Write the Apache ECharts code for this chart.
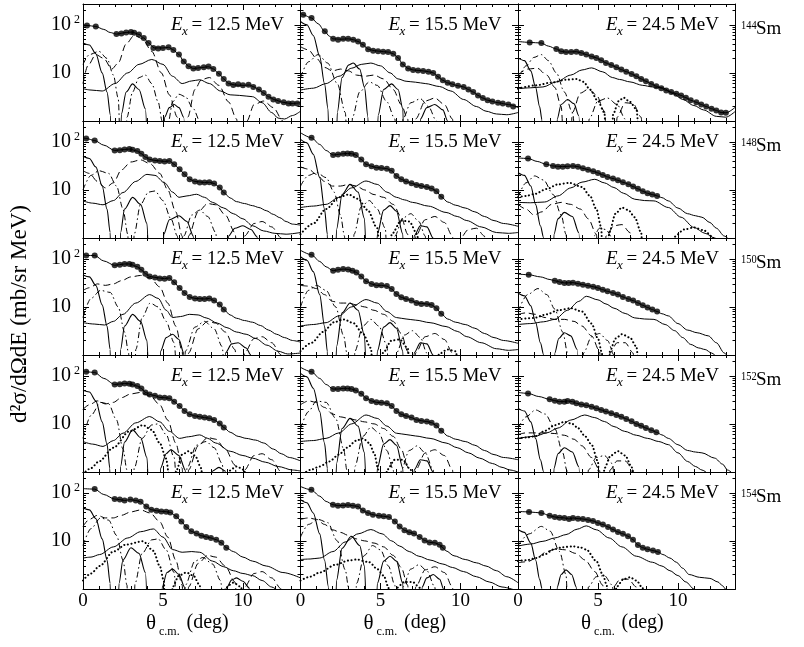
<!DOCTYPE html>
<html><head><meta charset="utf-8">
<script src="https://cdn.jsdelivr.net/npm/echarts@6/dist/echarts.min.js"></script>
<style>html,body{margin:0;padding:0;background:#fff}#c{width:804px;height:647px}</style>
</head><body><div id="c"></div>
<script>
// ---------- 144Sm ----------
const pts144a = [[0.25,97],[0.8,92],[2.09,64],[2.4,66],[2.7,69],[3.0,71],[3.2,68],[3.5,63],[3.8,53],[4.1,42],[4.4,33],[4.7,32],[5.0,33],[5.35,34],[5.65,30],[6.0,24],[6.3,17.3],[6.6,13.7],[6.9,12.3],[7.2,12.7],[7.55,13.1],[7.85,13.5],[8.15,12.1],[8.5,9.6],[8.8,7.5],[9.1,6.0],[9.4,5.6],[9.7,5.8],[10.0,5.5],[10.35,5.7],[10.65,5.1],[11.0,4.5],[11.3,3.8],[11.6,3.2],[11.9,2.8],[12.2,2.6],[12.55,2.45],[12.85,2.3],[13.1,2.3],[13.4,2.3]];
const fit144a = [[0,100],[0.25,97],[0.8,92],[1.3,80],[1.7,69],[2.09,64],[2.7,69],[3.05,70.5],[3.5,63],[3.8,53],[4.1,42],[4.45,33],[5.0,33],[5.35,34],[5.65,30],[6.0,24],[6.3,17.3],[6.6,13.7],[6.9,12.3],[7.4,12.9],[7.85,13.4],[8.15,12.1],[8.5,9.6],[8.8,7.5],[9.1,6.0],[9.5,5.6],[10.0,5.5],[10.4,5.6],[10.7,5.1],[11.0,4.5],[11.3,3.8],[11.6,3.2],[12.0,2.75],[12.5,2.45],[13.0,2.3],[13.6,2.4]];
const m0_144a = [[0,42],[0.4,38],[0.8,25],[1.2,10],[1.5,4],[1.72,1.3],[1.8,0.05],[2.3,0.05],[2.4,1.4],[2.7,4],[3.1,5.9],[3.5,4.5],[3.9,1.8],[4.15,0.05],[5.0,0.05],[5.1,1.2],[5.4,1.9],[5.7,2.2],[6.0,1.9],[6.3,1.2],[6.45,0.05]];
const m1_144a = [[0,15],[0.4,24],[1.0,28],[1.5,20],[1.9,9],[2.2,3],[2.4,0.05],[2.6,0.05],[2.75,1.2],[3.1,4],[3.5,8],[3.9,9],[4.3,6],[4.7,2.5],[4.95,1],[5.05,0.05],[5.2,0.05],[5.35,1],[5.6,2.5],[6.0,3.6],[6.4,3.2],[6.9,1.8],[7.3,1],[7.45,0.05]];
const m2_144a = [[0,6],[0.3,14],[0.8,24],[1.3,20],[1.8,12],[2.2,16],[2.7,40],[3.2,60],[3.7,52],[4.3,28],[4.9,10],[5.4,3.5],[5.9,1.2],[6.2,0.05],[6.4,0.05],[6.55,1.2],[7.0,4.5],[7.4,7.2],[7.9,8],[8.5,5.5],[9.1,2.5],[9.6,1.1],[9.9,0.05],[10.1,0.05],[10.25,1.0],[10.7,2.2],[11.3,2.6],[11.9,1.9],[12.5,1.0],[12.7,0.05]];
const m3_144a = [];
const bg144a = [[0,4.7],[0.5,4.4],[1.2,4.2],[2.0,6],[2.8,10],[3.5,15],[4.3,19],[5.0,15],[5.6,8.5],[6.2,6],[6.8,6.8],[7.3,7.2],[7.9,6],[8.6,4.2],[9.2,3.5],[9.8,3.4],[10.6,3.2],[11.2,2.4],[11.8,1.5],[12.2,1.15],[12.6,1.1],[13.1,1.3],[13.6,1.6]];

const pts144b = [[0.17,161],[0.69,138],[1.52,73],[2.04,51],[2.35,49],[2.67,51],[2.98,51],[3.3,49],[3.6,45],[3.9,38.6],[4.23,31],[4.54,29],[4.85,28],[5.17,27.6],[5.48,27],[5.8,25],[6.1,20.5],[6.4,15],[6.73,12.3],[7.04,11.5],[7.35,11.2],[7.67,11],[8.0,10.6],[8.3,10],[8.6,8.3],[8.9,7],[9.2,6.2],[9.5,5.8],[9.85,5.4],[10.2,5.1],[10.5,4.5],[10.8,4.0],[11.1,3.4],[11.4,3.0],[11.7,2.7],[12.0,2.55],[12.35,2.4],[12.65,2.3],[13.0,2.2],[13.3,2.0]];
const fit144b = [[0,175],[0.17,161],[0.69,138],[1.1,105],[1.52,73],[1.8,58],[2.04,51],[2.5,50],[3.0,51],[3.3,49],[3.6,45],[3.9,38.6],[4.23,31],[4.6,29],[5.2,27.6],[5.5,27],[5.8,25],[6.1,20.5],[6.4,15],[6.73,12.3],[7.04,11.5],[7.67,11],[8.0,10.6],[8.3,10],[8.6,8.3],[8.9,7],[9.2,6.2],[9.85,5.4],[10.2,5.1],[10.5,4.5],[10.8,4.0],[11.1,3.4],[11.4,3.0],[11.7,2.7],[12.35,2.4],[13.0,2.2],[13.6,1.9]];
const m0_144b = [[0,117],[0.4,100],[0.8,60],[1.2,22],[1.5,6],[1.72,1.8],[1.83,0.05],[2.2,0.05],[2.3,1.5],[2.6,8],[3.0,14.5],[3.3,16],[3.7,12],[4.0,5],[4.22,1.2],[4.3,0.05],[4.75,0.05],[4.85,1.3],[5.2,4.5],[5.7,5.9],[6.1,4.5],[6.4,1.8],[6.5,0.05],[7.4,0.05],[7.5,1.1],[7.9,1.9],[8.4,2.2],[8.9,1.7],[9.2,1.0],[9.3,0.05]];
const m1_144b = [[0,8],[0.5,17],[1.1,24],[1.7,16],[2.3,6],[2.8,1.5],[3.0,0.05],[3.15,0.05],[3.25,1.2],[3.7,4],[4.3,6.5],[4.8,5.5],[5.4,2.5],[5.9,1.1],[6.1,0.05],[6.25,0.05],[6.4,1.1],[6.9,2.4],[7.5,2.9],[8.0,2],[8.5,1.0],[8.7,0.05]];
const m2_144b = [[0,35],[0.5,30],[1.0,20],[1.5,13],[2.0,11],[2.5,12],[3.0,11],[3.5,9],[4.0,8.5],[4.6,9],[5.2,7.5],[5.8,4.5],[6.3,2.2],[6.7,1.1],[6.9,0.05],[7.05,0.05],[7.2,1.1],[7.8,2.6],[8.4,3.0],[9.0,2.2],[9.5,1.1],[9.7,0.05]];
const m3_144b = [];
const bg144b = [[0,4.4],[0.8,4.8],[1.6,6],[2.4,8.5],[3.2,12.5],[3.8,15],[4.4,16],[5.0,14],[5.6,10],[6.1,7.5],[6.6,6.7],[7.2,6.4],[7.8,6.0],[8.7,5.2],[9.4,4.2],[10.2,2.8],[11.0,2.0],[11.6,1.6],[12.25,1.4],[12.9,1.35],[13.6,1.5]];

const pts144c = [[0.73,43],[1.46,41.7],[2.4,31.4],[2.7,28],[3.0,27],[3.33,27],[3.65,27.6],[3.96,26],[4.27,24],[4.6,22],[4.9,20.5],[5.2,18.3],[5.5,16.1],[5.83,14.6],[6.15,13.1],[6.46,11.7],[6.77,10.6],[7.1,9.5],[7.4,8.5],[7.7,7.5],[8.0,6.7],[8.33,5.9],[8.65,5.3],[8.96,4.8],[9.27,4.3],[9.58,4.0],[9.9,3.7],[10.2,3.4],[10.5,3.05],[10.8,2.7],[11.15,2.45],[11.46,2.2],[11.77,2.0],[12.1,1.8],[12.4,1.66],[12.7,1.5],[13.0,1.48]];
const fit144c = [[0,45],[0.73,43],[1.46,41.7],[1.9,36],[2.4,31.4],[2.7,28],[3.0,27],[3.65,27.6],[3.96,26],[4.27,24],[4.6,22],[4.9,20.5],[5.2,18.3],[5.5,16.1],[5.83,14.6],[6.15,13.1],[6.46,11.7],[6.77,10.6],[7.1,9.5],[7.4,8.5],[7.7,7.5],[8.0,6.7],[8.33,5.9],[8.65,5.3],[8.96,4.8],[9.27,4.3],[9.58,4.0],[9.9,3.7],[10.2,3.4],[10.5,3.05],[10.8,2.7],[11.15,2.45],[11.46,2.2],[11.77,2.0],[12.1,1.8],[12.4,1.66],[12.7,1.5],[13.0,1.48],[13.6,1.95]];
const m0_144c = [[0,20.5],[0.4,18],[0.8,11],[1.1,5],[1.35,2],[1.5,1.05],[1.56,0.05],[2.35,0.05],[2.45,1.1],[2.7,2.2],[3.1,2.8],[3.5,2.3],[3.8,1.3],[3.95,0.05]];
const m1_144c = [[0,7],[0.5,14],[1.0,21],[1.46,24],[1.9,18],[2.4,10],[2.9,4],[3.4,1.5],[3.8,0.05],[4.3,0.05],[4.45,1.1],[5.0,2.6],[5.6,3.0],[6.2,2.2],[6.7,1.1],[6.9,0.05]];
const m2_144c = [[0,9],[0.6,12],[1.2,12.5],[1.8,9],[2.3,5],[2.7,2],[2.95,0.05],[3.2,0.05],[3.4,1.5],[3.9,3.8],[4.4,4.6],[4.9,3.5],[5.4,1.6],[5.7,0.05],[6.0,0.05],[6.2,1.2],[6.7,2.4],[7.2,2.3],[7.7,1.2],[7.9,0.05]];
const m3_144c = [[0,4.7],[1.1,5.5],[2.2,6.4],[3.0,7.2],[3.65,7.5],[4.1,6.5],[4.5,4.5],[5.0,2.6],[5.4,1.5],[5.6,0.05],[5.8,0.05],[5.95,1.4],[6.3,2.6],[6.6,3.05],[7.0,2.5],[7.4,1.76],[7.7,0.05]];
const bg144c = [[0,4.7],[0.8,4.9],[1.56,5.1],[2.4,6.5],[3.3,9],[4.0,11.5],[4.6,12.7],[5.3,10.5],[5.9,8],[6.35,7.3],[7.0,6.5],[7.8,5.5],[8.4,5.1],[9.05,4.9],[9.7,3.7],[10.3,2.8],[11.0,2.1],[11.6,1.7],[12.4,1.25],[13.0,1.2],[13.6,1.6]];

// ---------- 148Sm ----------
const pts148a = [[0.2,117],[0.73,106],[1.98,66],[2.3,67],[2.6,69],[2.9,70.6],[3.1,68],[3.4,64],[3.65,56.5],[3.9,48],[4.17,43],[4.5,41],[4.8,40],[5.1,39],[5.4,40],[5.7,34],[6.04,26.7],[6.35,21],[6.67,16.6],[7.0,15],[7.3,14.2],[7.6,14.2],[7.9,14.4],[8.2,13.5],[8.55,11.2],[8.8,8.8]];
const fit148a = [[0,120],[0.2,117],[0.73,106],[1.3,85],[1.98,66],[2.6,69],[2.9,70.6],[3.4,64],[3.65,56.5],[3.9,48],[4.17,43],[4.5,41],[5.1,39],[5.4,40],[5.7,34],[6.04,26.7],[6.35,21],[6.67,16.6],[7.0,15],[7.6,14.2],[7.9,14.4],[8.2,13.5],[8.55,11.2],[8.8,8.8],[9.2,6.8],[9.6,5.7],[10.1,5.2],[10.6,4.7],[11.0,4.3],[11.46,3.7],[11.9,3.1],[12.3,2.65],[12.7,2.2],[13.1,1.94],[13.6,1.85]];
const m0_148a = [[0,50],[0.4,45],[0.8,30],[1.2,12],[1.5,4],[1.7,1.3],[1.77,0.05],[2.25,0.05],[2.35,1.3],[2.6,4],[3.1,7],[3.6,5],[4.0,2],[4.2,0.05],[4.95,0.05],[5.05,1.2],[5.4,2.4],[6.0,2.9],[6.5,2.2],[6.9,1.1],[7.0,0.05],[9.0,0.05],[9.1,1.1],[9.5,1.6],[10.0,1.8],[10.5,1.5],[10.9,1.05],[11.0,0.05]];
const m1_148a = [[0,10],[0.5,20],[1.0,25],[1.6,22],[2.1,12],[2.5,4],[2.8,1.2],[2.9,0.05],[3.1,0.05],[3.2,1.2],[3.6,5],[4.1,9],[4.5,9.5],[5.0,6],[5.5,2.5],[5.9,1.1],[6.05,0.05],[6.2,0.05],[6.3,1.1],[6.8,3],[7.3,3.8],[7.8,2.8],[8.3,1.3],[8.5,0.05]];
const m2_148a = [[0,25],[0.4,22],[0.9,15],[1.4,11],[1.9,14],[2.4,26],[3.0,38],[3.6,42],[4.2,35],[4.8,22],[5.3,10],[5.8,3.5],[6.2,1.1],[6.35,0.05],[6.5,0.05],[6.6,1.1],[7.2,3.5],[7.8,5.2],[8.3,4.9],[8.9,3],[9.5,1.3],[9.8,0.05],[9.95,0.05],[10.1,1.1],[10.7,2.0],[11.2,2.2],[11.8,1.7],[12.4,1.0],[12.6,0.05]];
const m3_148a = [];
const bg148a = [[0,5.9],[0.6,5.3],[1.25,4.9],[1.9,6],[2.5,8.8],[3.3,15],[4.0,21],[4.5,20],[5.1,14],[5.6,9],[6.0,7],[6.5,7.5],[7.1,8.1],[7.6,7],[8.1,5.5],[8.8,4.2],[9.4,3.2],[10.0,2.5],[10.6,1.8],[11.3,1.4],[12.0,1.25],[12.7,1.2],[13.6,1.3]];

const pts148b = [[0.69,121],[2.04,53],[2.35,54.6],[2.67,56.5],[2.94,57.3],[3.19,56.5],[3.46,53],[3.8,43],[4.1,34],[4.44,31],[4.75,29],[5.06,28.5],[5.4,27.6],[5.7,25],[6.0,19.5],[6.3,16.6],[6.6,14.9],[6.94,13.7],[7.25,12.7],[7.56,12.1],[7.9,11.5],[8.2,10.7],[8.5,9.4],[8.8,7.2]];
const fit148b = [[0,154],[0.69,121],[1.2,88],[1.6,66],[2.04,53],[2.5,55.5],[2.94,57.3],[3.2,56.5],[3.46,53],[3.8,43],[4.1,34],[4.44,31],[4.75,29],[5.06,28.5],[5.4,27.6],[5.7,25],[6.0,19.5],[6.3,16.6],[6.6,14.9],[6.94,13.7],[7.25,12.7],[7.9,11.5],[8.2,10.7],[8.5,9.4],[8.8,7.2],[9.2,5.6],[9.7,4.8],[10.3,4.2],[10.9,3.5],[11.5,2.8],[12.1,2.3],[12.7,2.0],[13.6,1.75]];
const m0_148b = [[0,112],[0.4,95],[0.8,55],[1.2,18],[1.5,4],[1.68,1.2],[1.73,0.05],[2.15,0.05],[2.25,1.5],[2.6,8],[3.1,13],[3.6,9],[4.0,2.5],[4.2,0.05],[4.7,0.05],[4.8,1.2],[5.2,3.8],[5.6,4.7],[6.0,3.6],[6.4,1.2],[6.5,0.05],[7.0,0.05],[7.1,1.1],[7.5,1.8],[7.9,1.7],[8.3,1.0],[8.4,0.05]];
const m1_148b = [[0,12],[0.5,20],[1.0,23],[1.6,18],[2.1,9],[2.5,3],[2.75,1.1],[2.85,0.05],[3.2,0.05],[3.35,1.2],[3.8,4.5],[4.3,6],[4.8,4],[5.3,1.6],[5.5,0.05],[5.8,0.05],[5.9,1.1],[6.4,2.6],[6.9,3.2],[7.4,2.2],[7.8,1.1],[7.95,0.05]];
const m2_148b = [[0,30],[0.5,27],[1.0,21],[1.5,15],[2.0,12],[2.5,12],[3.0,13],[3.5,12],[4.0,10],[4.6,8],[5.2,7],[5.8,5],[6.3,2.7],[6.7,1.2],[6.9,0.05],[7.05,0.05],[7.2,1.1],[7.8,2.4],[8.4,2.8],[9.0,2.1],[9.5,1.1],[9.7,0.05],[9.85,0.05],[10.0,1.0],[10.5,1.5],[11.0,1.6],[11.5,1.1],[11.7,0.05]];
const m3_148b = [[0,1.2],[0.8,2],[1.6,4],[2.4,7],[3.0,8],[3.6,6.5],[4.2,3.8],[4.8,1.6],[5.1,0.05],[5.5,0.05],[5.7,1.2],[6.3,2.3],[6.8,2.2],[7.3,1.2],[7.5,0.05]];
const bg148b = [[0,4.3],[0.8,4.6],[1.6,5],[2.4,7],[3.2,11],[4.1,15.3],[4.8,13],[5.4,9],[6.0,7],[6.5,6.2],[7.0,5.5],[8.0,4.6],[9.1,3.4],[9.8,2.8],[10.4,2.3],[11.3,1.7],[12.25,1.3],[13.0,1.25],[13.6,1.3]];

const pts148c = [[0.63,45],[1.77,34],[2.19,31.4],[2.5,30.4],[2.8,30.4],[3.1,31],[3.44,31.4],[3.75,30.4],[4.06,28],[4.38,26.3],[4.7,24.3],[5.0,22.5],[5.3,20.5],[5.6,18.6],[5.94,17.2],[6.25,15.8],[6.56,14.4],[6.9,13.1],[7.2,11.7],[7.5,10.5],[7.8,9.4],[8.1,8.5],[8.4,8.0],[8.7,7.5]];
const fit148c = [[0,46],[0.63,45],[1.2,39],[1.77,34],[2.19,31.4],[2.8,30.4],[3.44,31.4],[3.75,30.4],[4.06,28],[4.38,26.3],[4.7,24.3],[5.0,22.5],[5.3,20.5],[5.6,18.6],[5.94,17.2],[6.25,15.8],[6.56,14.4],[6.9,13.1],[7.2,11.7],[7.5,10.5],[7.8,9.4],[8.1,8.5],[8.4,8.0],[8.7,7.5],[9.0,6.9],[9.4,5.9],[10.0,4.2],[10.6,3.2],[11.1,2.9],[11.5,2.7],[12.0,2.1],[12.4,1.6],[12.9,1.1],[13.3,0.9],[13.6,0.8]];
const m0_148c = [[0,22.7],[0.4,20],[0.8,12],[1.1,5],[1.4,1.8],[1.6,1.02],[1.67,0.05],[2.15,0.05],[2.25,1.2],[2.5,2.5],[2.9,3.4],[3.4,2.8],[3.8,1.3],[3.96,0.05]];
const m1_148c = [[0,7],[0.5,14],[1.04,19.5],[1.6,16],[2.2,8],[2.7,3],[3.0,1.2],[3.2,0.05],[4.6,0.05],[4.75,1.1],[5.1,1.6],[5.5,1.5],[5.9,1.0],[6.0,0.05]];
const m2_148c = [[0,5],[0.5,4],[1.0,3],[1.5,3.5],[2.1,5],[2.7,5.5],[3.3,5],[3.9,4],[4.4,2.5],[4.9,1.2],[5.1,0.05],[5.4,0.05],[5.5,1.1],[6.0,1.8],[6.5,1.9],[7.0,1.3],[7.3,0.05]];
const m3_148c = [[0,7],[0.5,7.5],[1.04,8.2],[1.8,10.5],[2.5,13],[3.2,14],[4.0,11.5],[4.5,7.5],[4.9,4],[5.2,1.7],[5.35,0.05],[5.55,0.05],[5.7,1.3],[6.1,3.2],[6.5,4.3],[6.9,3.8],[7.3,2.7],[7.7,1.3],[7.9,0.05],[9.6,0.05],[9.75,1.05],[10.4,1.5],[11.0,1.66],[11.6,1.45],[12.2,1.05],[12.3,0.05]];
const bg148c = [[0,5.5],[0.8,5.4],[1.67,5.6],[2.5,7.5],[3.3,11],[4.0,14.5],[4.8,16.6],[5.4,14],[6.0,11.2],[6.6,8.5],[7.3,6.4],[7.9,6],[8.5,5.9],[9.4,4.3],[10.2,2.7],[11.0,1.66],[11.7,1.25],[12.3,1.0],[12.8,0.8],[13.6,0.6]];

// ---------- 150Sm ----------
const pts150a = [[0.2,117],[0.73,117],[1.98,73],[2.3,75],[2.6,78],[2.9,78],[3.1,75],[3.4,68],[3.65,59],[3.9,49],[4.17,43],[4.5,41],[4.8,39],[5.1,38.6],[5.4,40],[5.7,32.4],[6.04,24.7],[6.35,19.5],[6.67,16.1],[7.0,15],[7.3,14.6],[7.6,14.6],[7.9,15],[8.2,13.5],[8.55,11.2],[8.8,8.8]];
const fit150a = [[0,125],[0.2,117],[0.73,117],[1.3,90],[1.98,73],[2.6,78],[2.9,78],[3.4,68],[3.65,59],[3.9,49],[4.17,43],[4.5,41],[5.1,38.6],[5.4,40],[5.7,32.4],[6.04,24.7],[6.35,19.5],[6.67,16.1],[7.0,15],[7.6,14.6],[7.9,15],[8.2,13.5],[8.55,11.2],[8.8,8.8],[9.2,6.8],[9.6,5.8],[10.1,5.2],[10.6,4.8],[11.1,4.1],[11.6,3.3],[12.1,2.7],[12.6,2.3],[13.1,2.0],[13.6,1.85]];
const m0_150a = [[0,46],[0.4,42],[0.8,28],[1.2,11],[1.5,4],[1.7,1.3],[1.77,0.05],[2.25,0.05],[2.35,1.3],[2.6,4],[3.1,7],[3.6,5],[4.0,2],[4.2,0.05],[4.75,0.05],[4.85,1.2],[5.2,2.3],[5.6,2.7],[6.0,2.1],[6.3,1.1],[6.4,0.05],[8.8,0.05],[8.9,1.1],[9.3,1.7],[9.7,1.8],[10.2,1.4],[10.5,1.0],[10.6,0.05]];
const m1_150a = [[0,6],[0.5,15],[1.1,22],[1.7,20],[2.2,10],[2.6,3],[2.85,1.1],[2.95,0.05],[3.2,0.05],[3.3,1.3],[3.7,6],[4.2,12],[4.7,10],[5.2,5],[5.7,1.8],[6.0,0.05],[6.3,0.05],[6.4,1.2],[7.0,3.8],[7.6,5],[8.2,3.5],[8.7,1.5],[8.95,0.05]];
const m2_150a = [[0,22],[0.4,25],[0.9,30],[1.4,28],[1.9,30],[2.4,35],[3.0,42],[3.6,45],[4.2,40],[4.8,26],[5.3,12],[5.8,4],[6.2,1.2],[6.35,0.05],[6.5,0.05],[6.6,1.1],[7.2,3.5],[7.8,5],[8.3,4.6],[8.9,3],[9.5,1.3],[9.8,0.05],[9.95,0.05],[10.1,1.1],[10.7,2.2],[11.2,2.4],[11.8,1.8],[12.4,1.0],[12.6,0.05]];
const m3_150a = [];
const bg150a = [[0,4.7],[0.7,4.4],[1.35,4.2],[1.9,5],[2.5,7],[3.3,12],[4.17,18],[4.7,15],[5.2,8.5],[5.6,6],[6.1,6.3],[6.67,7],[7.2,6.8],[7.7,5.9],[8.4,4.6],[9.0,3.7],[9.6,3.0],[10.2,2.7],[10.8,2.2],[11.5,1.6],[12.2,1.2],[12.8,1.05],[13.6,1.1]];

const pts150b = [[0.69,121],[2.04,56.5],[2.35,59],[2.67,61],[2.98,60],[3.25,56.5],[3.5,52],[3.8,43],[4.1,34],[4.44,30],[4.75,28],[5.06,28],[5.4,27],[5.7,23.6],[6.0,18.6],[6.3,15.8],[6.6,14.6],[6.94,13.5],[7.25,12.1],[7.56,11.5],[7.9,11.5],[8.2,11],[8.5,9.4],[8.8,7.2]];
const fit150b = [[0,150],[0.69,121],[1.2,88],[1.6,68],[2.04,56.5],[2.35,59],[2.67,61],[2.98,60],[3.25,56.5],[3.5,52],[3.8,43],[4.1,34],[4.44,30],[4.75,28],[5.06,28],[5.4,27],[5.7,23.6],[6.0,18.6],[6.3,15.8],[6.6,14.6],[6.94,13.5],[7.25,12.1],[7.9,11.5],[8.2,11],[8.5,9.4],[8.8,7.2],[9.2,5.6],[9.7,4.8],[10.3,4.3],[10.9,3.6],[11.5,2.8],[12.1,2.3],[12.7,2.0],[13.6,1.75]];
const m0_150b = [[0,110],[0.4,93],[0.8,54],[1.2,18],[1.5,4],[1.68,1.2],[1.73,0.05],[2.15,0.05],[2.25,1.5],[2.6,7.5],[3.1,12],[3.6,8.5],[4.0,2.5],[4.2,0.05],[4.7,0.05],[4.8,1.2],[5.2,3.8],[5.6,4.7],[6.0,3.6],[6.4,1.2],[6.5,0.05],[7.0,0.05],[7.1,1.1],[7.5,1.8],[7.9,1.7],[8.3,1.0],[8.4,0.05]];
const m1_150b = [[0,10],[0.5,22],[1.0,28],[1.6,22],[2.2,10],[2.7,2.5],[2.9,1.1],[3.0,0.05],[3.3,0.05],[3.4,1.2],[3.9,4],[4.4,5.5],[4.9,4],[5.4,1.6],[5.6,0.05],[5.9,0.05],[6.0,1.1],[6.5,2.6],[7.0,3.2],[7.5,2.3],[7.9,1.1],[8.05,0.05]];
const m2_150b = [[0,28],[0.5,27],[1.0,24],[1.5,18],[2.0,13],[2.5,12],[3.0,12],[3.5,11],[4.0,10],[4.6,8.5],[5.2,7],[5.8,5],[6.3,2.8],[6.7,1.2],[6.9,0.05],[7.05,0.05],[7.2,1.1],[7.8,2.4],[8.4,2.8],[9.0,2.1],[9.5,1.1],[9.7,0.05]];
const m3_150b = [[0,1.2],[0.7,1.8],[1.4,3],[2.1,4.8],[2.7,5.5],[3.3,4.6],[3.9,2.8],[4.4,1.4],[4.65,0.05],[5.0,0.05],[5.15,1.1],[5.7,2],[6.2,2.1],[6.7,1.4],[7.0,0.05],[8.5,0.05],[8.65,1.05],[9.2,1.3],[9.7,1.2],[10.1,0.05]];
const bg150b = [[0,4],[0.8,4.3],[1.6,4.7],[2.4,6.5],[3.2,10],[4.1,14.2],[4.8,12],[5.4,8],[6.0,6],[6.6,5.6],[7.2,5.3],[8.1,4.7],[9.1,3.9],[9.8,3.1],[10.4,2.4],[11.3,1.8],[12.25,1.35],[13.0,1.25],[13.6,1.3]];

const pts150c = [[0.67,46.6],[2.3,35],[2.6,33],[2.9,31.4],[3.17,31.4],[3.44,31.9],[3.75,30.4],[4.06,29],[4.38,27.6],[4.7,26.3],[5.0,24.7],[5.3,22.8],[5.6,21],[5.94,19.5],[6.25,18],[6.56,16.1],[6.9,14.6],[7.2,13.5],[7.5,12.1],[7.8,10.8],[8.1,9.7],[8.4,8.8],[8.7,8.0]];
const fit150c = [[0,48],[0.67,46.6],[1.4,42],[2.0,37],[2.3,35],[2.6,33],[2.9,31.4],[3.44,31.9],[3.75,30.4],[4.06,29],[4.38,27.6],[4.7,26.3],[5.0,24.7],[5.3,22.8],[5.6,21],[5.94,19.5],[6.25,18],[6.56,16.1],[6.9,14.6],[7.2,13.5],[7.5,12.1],[7.8,10.8],[8.1,9.7],[8.4,8.8],[8.7,8.0],[9.0,7.2],[9.4,6.5],[10.0,4.5],[10.6,3.3],[11.2,2.9],[11.9,2.5],[12.4,1.8],[12.9,1.1],[13.2,0.9],[13.6,0.7]];
const m0_150c = [[0,19.5],[0.4,17],[0.8,10.5],[1.1,4.8],[1.4,1.8],[1.6,1.02],[1.67,0.05],[2.2,0.05],[2.3,1.1],[2.55,2.2],[2.9,2.9],[3.3,2.5],[3.7,1.3],[3.9,0.05]];
const m1_150c = [[0,8],[0.6,18],[1.25,24],[1.8,18],[2.3,9],[2.8,3],[3.1,1.1],[3.2,0.05],[4.0,0.05],[4.1,1.1],[4.6,2.4],[5.1,2.8],[5.6,2.0],[6.0,1.0],[6.1,0.05]];
const m2_150c = [[0,7],[0.5,7.5],[1.1,7],[1.7,6],[2.3,5.5],[2.9,5.5],[3.5,5],[4.0,4],[4.6,2.5],[5.1,1.2],[5.3,0.05],[5.6,0.05],[5.75,1.1],[6.2,1.8],[6.7,1.8],[7.2,1.1],[7.4,0.05]];
const m3_150c = [[0,5.5],[1.0,5.9],[1.8,7],[2.5,8.5],[3.3,9.4],[4.0,8],[4.6,4.5],[5.0,2.2],[5.25,1.1],[5.35,0.05],[5.6,0.05],[5.75,1.2],[6.1,2.2],[6.5,2.7],[7.0,2.3],[7.4,1.5],[7.7,0.05]];
const bg150c = [[0,4.3],[0.8,4.5],[1.6,4.9],[2.3,5.5],[3.1,8.5],[3.8,13],[4.27,16.6],[5.0,14],[5.5,11.5],[6.0,9.4],[6.7,7.3],[7.3,5.9],[7.9,5.6],[8.5,5.5],[9.2,4.3],[9.8,3.2],[10.3,2.3],[10.8,1.66],[11.3,1.4],[11.7,1.3],[12.1,1.1],[12.5,0.9],[13.6,0.6]];

// ---------- 152Sm ----------
const pts152a = [[0.2,121],[0.73,117],[1.98,66],[2.3,67],[2.6,69],[2.9,68],[3.1,66],[3.4,61],[3.65,54.6],[3.9,45],[4.17,41],[4.5,38.6],[4.8,35.5],[5.1,35],[5.4,34],[5.7,29],[6.04,23.6],[6.35,18.6],[6.67,15.8],[7.0,14.6],[7.3,14],[7.6,13.5],[7.9,13.1],[8.2,12.1],[8.55,10.2],[8.8,8.4]];
const fit152a = [[0,122],[0.2,121],[0.73,117],[1.3,88],[1.98,66],[2.6,69],[2.9,68],[3.4,61],[3.65,54.6],[3.9,45],[4.17,41],[4.5,38.6],[4.8,35.5],[5.1,35],[5.4,34],[5.7,29],[6.04,23.6],[6.35,18.6],[6.67,15.8],[7.0,14.6],[7.6,13.5],[7.9,13.1],[8.2,12.1],[8.55,10.2],[8.8,8.4],[9.2,6.7],[9.7,5.5],[10.2,5.0],[10.8,4.6],[11.3,4.0],[11.9,3.0],[12.4,2.4],[12.9,2.0],[13.6,1.7]];
const m0_152a = [[0,50],[0.4,46],[0.8,30],[1.2,11],[1.5,3.8],[1.68,1.2],[1.73,0.05],[2.25,0.05],[2.35,1.3],[2.6,4.2],[3.1,7.5],[3.6,5.2],[4.0,2],[4.2,0.05],[4.75,0.05],[4.85,1.2],[5.2,2.4],[5.5,2.9],[6.0,2.2],[6.4,1.1],[6.5,0.05],[8.0,0.05],[8.1,1.05],[8.5,1.25],[8.9,1.05],[9.0,0.05]];
const m1_152a = [[0,5],[0.5,15],[1.1,28],[1.6,26],[2.1,12],[2.5,3],[2.75,1.1],[2.85,0.05],[3.1,0.05],[3.2,1.2],[3.7,5],[4.3,9.5],[4.7,10],[5.2,6],[5.7,2],[6.0,0.05],[6.4,0.05],[6.5,1.2],[7.1,3.6],[7.7,4.3],[8.2,3.2],[8.7,1.5],[8.95,0.05]];
const m2_152a = [[0,20],[0.4,25],[0.9,30],[1.4,26],[1.9,28],[2.4,35],[3.0,42],[3.6,45],[4.2,38],[4.8,25],[5.3,12],[5.8,4],[6.2,1.2],[6.35,0.05],[6.5,0.05],[6.6,1.1],[7.2,3.5],[7.8,5.2],[8.3,4.8],[8.9,3],[9.5,1.4],[9.8,0.05],[9.95,0.05],[10.1,1.1],[10.7,2.2],[11.2,2.4],[11.8,1.8],[12.4,1.0],[12.6,0.05]];
const m3_152a = [[0,0.9],[0.5,1.2],[1.0,1.66],[1.9,3.2],[2.9,7],[3.75,9.4],[4.3,7.5],[4.8,4],[5.2,1.9],[5.35,1.0],[5.4,0.05],[5.75,0.05],[5.85,1.1],[6.2,2.3],[6.6,2.7],[7.0,2.2],[7.4,1.2],[7.55,0.05],[9.0,0.05],[9.1,1.05],[9.6,1.3],[10.1,1.1],[10.2,0.05]];
const bg152a = [[0,4.3],[0.6,3.8],[1.25,3.4],[1.9,4.5],[2.5,6.4],[3.3,10.5],[4.17,14.2],[4.8,11],[5.4,7],[6.04,5.0],[6.6,5.4],[7.3,5.9],[7.8,5.0],[8.3,4.0],[9.2,2.7],[10.0,2.2],[10.6,1.94],[11.4,1.6],[12.2,1.3],[13.1,1.1],[13.6,1.05]];

const pts152b = [[0.69,121],[2.04,53],[2.35,53],[2.67,54.6],[2.94,54.6],[3.19,53],[3.46,49.6],[3.8,42.4],[4.1,34],[4.44,30],[4.75,28],[5.06,27.6],[5.4,26.7],[5.7,23.6],[6.0,18.6],[6.3,15.8],[6.6,14.6],[6.94,13.5],[7.25,12.1],[7.56,11.5],[7.9,11.2],[8.2,10.6],[8.5,9.2],[8.8,7.2]];
const fit152b = [[0,150],[0.69,121],[1.2,88],[1.6,66],[2.04,53],[2.35,53],[2.67,54.6],[2.94,54.6],[3.19,53],[3.46,49.6],[3.8,42.4],[4.1,34],[4.44,30],[4.75,28],[5.06,27.6],[5.4,26.7],[5.7,23.6],[6.0,18.6],[6.3,15.8],[6.6,14.6],[6.94,13.5],[7.25,12.1],[7.9,11.2],[8.2,10.6],[8.5,9.2],[8.8,7.2],[9.2,5.6],[9.7,4.8],[10.3,4.3],[10.9,3.6],[11.5,2.8],[12.1,2.3],[12.7,2.0],[13.6,1.8]];
const m0_152b = [[0,112],[0.4,95],[0.8,55],[1.2,18],[1.5,4],[1.68,1.2],[1.73,0.05],[2.15,0.05],[2.25,1.5],[2.6,8],[3.1,13],[3.6,9],[4.0,2.5],[4.2,0.05],[4.7,0.05],[4.8,1.2],[5.2,3.8],[5.6,4.7],[6.0,3.6],[6.4,1.2],[6.5,0.05],[7.0,0.05],[7.1,1.1],[7.5,1.8],[7.9,1.7],[8.3,1.0],[8.4,0.05]];
const m1_152b = [[0,8],[0.5,18],[1.0,30],[1.6,28],[2.2,13],[2.7,3],[2.9,1.1],[3.0,0.05],[3.3,0.05],[3.4,1.3],[3.9,5.5],[4.4,8.5],[4.9,6.5],[5.4,2.8],[5.8,1.1],[5.95,0.05],[6.2,0.05],[6.3,1.1],[6.8,2.8],[7.3,3.5],[7.8,2.5],[8.3,1.1],[8.45,0.05]];
const m2_152b = [[0,25],[0.5,30],[1.0,28],[1.5,22],[2.0,16],[2.5,14],[3.0,13],[3.5,12],[4.0,11],[4.6,10],[5.2,8],[5.8,5.5],[6.3,3],[6.7,1.3],[6.95,0.05],[7.05,0.05],[7.2,1.1],[7.8,2.5],[8.4,2.9],[9.0,2.2],[9.5,1.1],[9.7,0.05]];
const m3_152b = [[0,0.8],[0.6,1.1],[1.2,1.3],[1.8,1.66],[2.4,2.3],[2.9,3.2],[3.5,4.5],[3.9,5],[4.3,4],[4.6,2.5],[4.85,1.2],[4.95,0.05],[5.3,0.05],[5.4,1.1],[5.9,1.8],[6.4,1.8],[6.9,1.1],[7.05,0.05]];
const bg152b = [[0,4.3],[0.8,4.5],[1.6,5],[2.4,6.5],[3.2,10],[4.1,15.3],[4.8,13],[5.4,9],[6.0,6.4],[6.6,6],[7.2,5.6],[8.1,5],[9.1,4],[9.8,3.2],[10.5,2.5],[11.2,1.94],[12.0,1.5],[12.6,1.25],[13.1,1.1],[13.6,1.0]];

const pts152c = [[0.63,43],[1.98,32.4],[2.3,30.4],[2.6,29],[2.9,29],[3.1,30],[3.4,29],[3.65,26.7],[3.96,25.4],[4.27,24.3],[4.6,22.8],[4.9,21],[5.2,19.5],[5.5,18],[5.83,16.6],[6.15,15.3],[6.46,14],[6.77,12.7],[7.1,11.3],[7.4,10],[7.7,9.1],[8.0,8.2],[8.33,7.4],[8.65,6.7]];
const fit152c = [[0,45],[0.63,43],[1.3,37],[1.98,32.4],[2.3,30.4],[2.6,29],[2.9,29],[3.1,30],[3.4,29],[3.65,26.7],[3.96,25.4],[4.27,24.3],[4.6,22.8],[4.9,21],[5.2,19.5],[5.5,18],[5.83,16.6],[6.15,15.3],[6.46,14],[6.77,12.7],[7.1,11.3],[7.4,10],[7.7,9.1],[8.0,8.2],[8.33,7.4],[8.65,6.7],[9.0,5.9],[9.4,5.0],[10.0,3.7],[10.6,2.8],[11.1,2.6],[11.5,2.5],[12.3,1.94],[12.8,1.45],[13.1,1.1],[13.6,0.8]];
const m0_152c = [[0,21],[0.4,18.5],[0.8,11],[1.1,5],[1.4,1.8],[1.6,1.02],[1.67,0.05],[2.15,0.05],[2.25,1.2],[2.5,2.4],[2.9,3.2],[3.4,2.6],[3.8,1.3],[3.96,0.05]];
const m1_152c = [[0,8],[0.5,14],[1.1,19.5],[1.7,16],[2.3,8],[2.8,2.5],[3.05,1.1],[3.15,0.05],[4.3,0.05],[4.4,1.1],[4.9,2.0],[5.4,2.2],[5.9,1.5],[6.2,0.05]];
const m2_152c = [[0,6],[0.5,6.5],[1.1,6.5],[1.7,6.5],[2.3,6.3],[2.9,5.8],[3.5,4.8],[4.0,3.5],[4.6,2],[5.1,1.1],[5.25,0.05],[5.6,0.05],[5.75,1.1],[6.2,1.7],[6.7,1.7],[7.2,1.1],[7.4,0.05]];
const m3_152c = [[0,5],[0.5,5.2],[1.04,5.5],[1.7,7.2],[2.3,9.4],[2.9,11],[3.4,10],[3.75,8.2],[4.2,5.5],[4.6,3.7],[5.0,1.66],[5.15,0.05],[5.25,0.05],[5.4,1.2],[5.8,2.2],[6.25,2.7],[6.7,2.2],[7.1,1.3],[7.4,0.05]];
const bg152c = [[0,5],[1.04,5.5],[1.8,6.5],[2.5,8.2],[3.3,12],[4.17,15.3],[4.8,13.5],[5.4,11.2],[6.0,8.8],[6.67,7],[7.4,5.8],[8.1,5.0],[8.8,4.3],[9.4,3.7],[10.0,2.5],[10.6,1.66],[11.1,1.3],[11.5,1.1],[12.0,0.9],[13.6,0.6]];

// ---------- 154Sm ----------
const pts154a = [[0.73,119],[1.98,74],[2.3,72],[2.6,69],[2.96,72],[3.3,69],[3.6,65],[3.96,52],[4.27,44.5],[4.6,42.4],[4.9,41],[5.2,40.4],[5.46,39],[5.83,32.4],[6.15,25.4],[6.46,19.5],[6.77,15.8],[7.1,14.2],[7.4,12.8],[7.7,12.1],[8.0,11.5],[8.33,10.6],[8.65,9.1],[8.96,7.2]];
const fit154a = [[0,122],[0.73,119],[1.3,92],[1.98,74],[2.3,72],[2.6,69],[2.96,72],[3.3,69],[3.6,65],[3.96,52],[4.27,44.5],[4.6,42.4],[4.9,41],[5.2,40.4],[5.46,39],[5.83,32.4],[6.15,25.4],[6.46,19.5],[6.77,15.8],[7.1,14.2],[7.4,12.8],[7.7,12.1],[8.0,11.5],[8.33,10.6],[8.65,9.1],[8.96,7.2],[9.4,6.0],[10.0,4.6],[10.6,3.8],[11.46,3.0],[12.5,2.2],[13.6,1.7]];
const m0_154a = [[0,48],[0.4,44],[0.8,29],[1.2,11],[1.5,4],[1.7,1.3],[1.77,0.05],[2.15,0.05],[2.25,1.3],[2.5,4],[3.0,7.2],[3.5,5.5],[3.9,2.2],[4.15,0.05],[4.85,0.05],[4.95,1.1],[5.25,2.2],[5.6,2.6],[6.0,2.0],[6.35,1.1],[6.45,0.05],[8.9,0.05],[9.0,1.1],[9.3,1.55],[9.6,1.7],[10.0,1.45],[10.4,1.05],[10.5,0.05]];
const m1_154a = [[0,8],[0.5,18],[1.1,30],[1.6,27],[2.1,13],[2.5,4],[2.75,1.2],[2.85,0.05],[3.15,0.05],[3.25,1.3],[3.7,5.5],[4.3,10.5],[4.7,11],[5.2,6.5],[5.7,2.2],[5.95,0.05],[6.3,0.05],[6.4,1.2],[7.0,3.8],[7.5,4.5],[8.1,3.3],[8.6,1.5],[8.9,0.05]];
const m2_154a = [[0,20],[0.4,28],[0.9,34],[1.4,30],[1.9,30],[2.4,34],[3.0,40],[3.6,44],[4.2,38],[4.8,25],[5.3,12],[5.8,4],[6.2,1.2],[6.35,0.05],[6.5,0.05],[6.6,1.1],[7.2,3.4],[7.8,5],[8.3,4.6],[8.9,3],[9.5,1.4],[9.8,0.05],[9.95,0.05],[10.1,1.1],[10.7,2.1],[11.2,2.3],[11.8,1.7],[12.4,1.0],[12.6,0.05]];
const m3_154a = [[0,1.5],[0.5,2.1],[1.04,3],[1.9,6],[2.7,8.4],[3.75,9.8],[4.4,6.2],[4.8,3],[5.05,1.5],[5.2,0.05],[5.5,0.05],[5.6,1.1],[6.0,1.9],[6.46,2.2],[6.9,1.9],[7.3,1.2],[7.5,0.05],[8.8,0.05],[8.9,1.05],[9.4,1.35],[9.9,1.1],[10.0,0.05]];
const bg154a = [[0,4.4],[0.5,4.6],[1.04,5.2],[1.9,7.5],[2.8,11.5],[3.6,15.5],[4.4,17.7],[5.0,12],[5.6,6.6],[6.2,5.8],[6.8,6.0],[7.3,5.8],[8.1,3.8],[8.8,2.9],[9.4,2.4],[10.0,2.1],[10.6,1.9],[11.2,1.5],[11.8,1.1],[12.3,0.9],[13.6,0.6]];

const pts154b = [[0.68,115],[2.03,56.5],[2.34,53.8],[2.66,54.6],[2.97,55.7],[3.28,53.8],[3.6,52],[3.9,43],[4.22,38],[4.53,35],[4.9,33.3],[5.2,32.4],[5.53,31.4],[5.9,25.4],[6.2,20],[6.5,16.6],[6.8,15.1],[7.1,14.2],[7.45,12.1],[7.76,10.2],[8.07,9.3],[8.4,9.1],[8.7,8.3],[8.9,7.2]];
const fit154b = [[0,135],[0.68,115],[1.2,85],[1.6,66],[2.03,56.5],[2.34,53.8],[2.97,55.7],[3.28,53.8],[3.6,52],[3.9,43],[4.22,38],[4.53,35],[4.9,33.3],[5.2,32.4],[5.53,31.4],[5.9,25.4],[6.2,20],[6.5,16.6],[6.8,15.1],[7.1,14.2],[7.45,12.1],[7.76,10.2],[8.07,9.3],[8.4,9.1],[8.7,8.3],[8.9,7.2],[9.1,6.2],[9.6,4.9],[10.3,4.1],[11.0,3.5],[11.6,3.0],[12.25,2.4],[12.9,1.8],[13.6,1.35]];
const m0_154b = [[0,72],[0.4,62],[0.8,38],[1.2,14],[1.5,4],[1.75,1.1],[1.82,0.05],[2.15,0.05],[2.25,1.5],[2.6,7],[3.18,12.5],[3.7,8],[4.0,3],[4.2,0.05],[4.7,0.05],[4.8,1.3],[5.2,3.8],[5.6,4.8],[6.0,3.8],[6.4,1.3],[6.5,0.05],[7.5,0.05],[7.6,1.1],[7.9,1.7],[8.3,2.0],[8.7,1.6],[8.95,1.0],[9.0,0.05]];
const m1_154b = [[0,12],[0.5,22],[1.1,28],[1.7,24],[2.3,10],[2.8,2.5],[3.0,1.1],[3.1,0.05],[3.4,0.05],[3.5,1.3],[4.0,5],[4.5,8],[5.0,6.5],[5.5,3],[5.9,1.2],[6.05,0.05],[6.3,0.05],[6.4,1.1],[6.9,2.6],[7.4,3.2],[7.9,2.4],[8.4,1.1],[8.55,0.05]];
const m2_154b = [[0,28],[0.5,30],[1.0,28],[1.5,22],[2.0,17],[2.5,15],[3.0,13],[3.5,11],[4.0,10],[4.6,9],[5.2,7.5],[5.8,5],[6.3,2.8],[6.7,1.2],[6.9,0.05],[7.05,0.05],[7.2,1.1],[7.8,2.5],[8.4,2.9],[9.0,2.2],[9.5,1.1],[9.7,0.05]];
const m3_154b = [[0,1.5],[0.6,1.8],[1.2,2.2],[2.2,3.2],[3.0,3.9],[3.5,4.1],[4.3,3.6],[4.8,2.6],[5.2,1.9],[5.5,1.1],[5.6,0.05],[5.9,0.05],[6.0,1.05],[6.5,1.4],[7.0,1.4],[7.5,1.05],[7.6,0.05]];
const bg154b = [[0,4.1],[0.6,4.2],[1.2,4.4],[2.03,6],[2.8,9.5],[3.6,14],[4.4,17.2],[5.1,14],[5.7,10],[6.2,7.8],[6.8,6],[7.4,4.8],[8.1,4.0],[8.9,3.3],[9.5,2.8],[10.2,2.3],[11.0,1.8],[11.8,1.4],[12.6,1.1],[13.6,0.9]];

const pts154c = [[0.69,40],[1.46,38],[1.98,33.4],[2.3,31.4],[2.6,30.4],[2.9,30],[3.19,28.5],[3.44,30],[3.75,29],[4.06,28.5],[4.38,27.2],[4.69,26],[5.0,23.6],[5.31,21.8],[5.63,19.5],[5.94,17.2],[6.25,15.3],[6.56,14],[6.88,12.5],[7.19,10.6],[7.5,8.2],[7.8,7.2],[8.1,6.7],[8.44,6.3],[8.75,5.9]];
const fit154c = [[0,41],[0.69,40],[1.46,38],[1.98,33.4],[2.3,31.4],[2.6,30.4],[2.9,30],[3.19,28.5],[3.44,30],[3.75,29],[4.06,28.5],[4.38,27.2],[4.69,26],[5.0,23.6],[5.31,21.8],[5.63,19.5],[5.94,17.2],[6.25,15.3],[6.56,14],[6.88,12.5],[7.19,10.6],[7.5,8.2],[7.8,7.2],[8.1,6.7],[8.44,6.3],[8.75,5.9],[9.06,5.2],[9.5,4.4],[9.9,3.6],[10.3,2.7],[10.7,2.0],[11.35,1.75],[12.0,1.66],[12.5,1.4],[12.8,1.16],[13.0,0.98],[13.6,0.7]];
const m0_154c = [[0,17.2],[0.4,15],[0.8,9],[1.1,4],[1.35,1.6],[1.5,1.02],[1.56,0.05],[2.35,0.05],[2.45,1.1],[2.7,2.0],[3.0,2.5],[3.35,2.0],[3.65,1.1],[3.75,0.05]];
const m1_154c = [[0,8],[0.7,14],[1.46,20],[2.0,16],[2.6,6],[3.0,2],[3.2,0.05],[4.3,0.05],[4.4,1.1],[4.9,1.8],[5.4,1.9],[5.9,1.2],[6.1,0.05]];
const m2_154c = [[0,3.5],[0.6,3.7],[1.2,4.5],[1.8,6],[2.4,6.8],[3.0,6.5],[3.6,5.5],[4.2,4],[4.8,2.3],[5.3,1.2],[5.5,0.05],[5.8,0.05],[5.95,1.1],[6.4,1.6],[6.9,1.6],[7.4,1.1],[7.6,0.05]];
const m3_154c = [[0,3.8],[0.6,4],[1.15,4.4],[1.7,5.3],[2.2,6.6],[2.8,7.4],[3.44,7.7],[3.9,7.3],[4.27,6.6],[4.9,3.8],[5.3,2],[5.55,1.2],[5.7,0.05],[6.0,0.05],[6.15,1.1],[6.6,1.6],[7.0,1.75],[7.4,1.5],[7.8,1.05],[7.9,0.05]];
const bg154c = [[0,7.8],[0.8,8.6],[1.56,9.8],[2.3,11.5],[3.0,13.5],[3.7,17.5],[4.27,20.5],[4.9,17],[5.7,11.5],[6.5,7.5],[7.4,4.8],[8.4,3.6],[9.0,3.0],[9.5,2.4],[10.0,1.9],[10.5,1.4],[11.0,1.0],[11.5,0.75]];

// ---------- labels / ticks ----------
const nuclei = ['144','148','150','152','154'];
const energies = ['12.5','15.5','24.5'];
const xMajorTicks = [0,5,10];
const xMinorTicks = [1,2,3,4,6,7,8,9,11,12,13];
const yMajorTicks = [10,100];
const yMinorTicks = [2,3,4,5,6,7,8,9,20,30,40,50,60,70,80,90,200];

const PANELS = [
  [{pts:pts144a,fit:fit144a,m0:m0_144a,m1:m1_144a,m2:m2_144a,m3:m3_144a,bg:bg144a},
   {pts:pts144b,fit:fit144b,m0:m0_144b,m1:m1_144b,m2:m2_144b,m3:m3_144b,bg:bg144b},
   {pts:pts144c,fit:fit144c,m0:m0_144c,m1:m1_144c,m2:m2_144c,m3:m3_144c,bg:bg144c}],
  [{pts:pts148a,fit:fit148a,m0:m0_148a,m1:m1_148a,m2:m2_148a,m3:m3_148a,bg:bg148a},
   {pts:pts148b,fit:fit148b,m0:m0_148b,m1:m1_148b,m2:m2_148b,m3:m3_148b,bg:bg148b},
   {pts:pts148c,fit:fit148c,m0:m0_148c,m1:m1_148c,m2:m2_148c,m3:m3_148c,bg:bg148c}],
  [{pts:pts150a,fit:fit150a,m0:m0_150a,m1:m1_150a,m2:m2_150a,m3:m3_150a,bg:bg150a},
   {pts:pts150b,fit:fit150b,m0:m0_150b,m1:m1_150b,m2:m2_150b,m3:m3_150b,bg:bg150b},
   {pts:pts150c,fit:fit150c,m0:m0_150c,m1:m1_150c,m2:m2_150c,m3:m3_150c,bg:bg150c}],
  [{pts:pts152a,fit:fit152a,m0:m0_152a,m1:m1_152a,m2:m2_152a,m3:m3_152a,bg:bg152a},
   {pts:pts152b,fit:fit152b,m0:m0_152b,m1:m1_152b,m2:m2_152b,m3:m3_152b,bg:bg152b},
   {pts:pts152c,fit:fit152c,m0:m0_152c,m1:m1_152c,m2:m2_152c,m3:m3_152c,bg:bg152c}],
  [{pts:pts154a,fit:fit154a,m0:m0_154a,m1:m1_154a,m2:m2_154a,m3:m3_154a,bg:bg154a},
   {pts:pts154b,fit:fit154b,m0:m0_154b,m1:m1_154b,m2:m2_154b,m3:m3_154b,bg:bg154b},
   {pts:pts154c,fit:fit154c,m0:m0_154c,m1:m1_154c,m2:m2_154c,m3:m3_154c,bg:bg154c}]
];

// ---------- build ----------
const FF = '"Liberation Serif","Times New Roman",serif';
const X0 = 83, CW = 217.5, Y0 = 4, RH = 117;
const chart = echarts.init(document.getElementById('c'), null, {renderer:'canvas'});
const grids = [], xAxes = [], yAxes = [], series = [], graphics = [];
const black = '#000';

function xAx(g, pos, ticks, len, showLine, showLabel) {
  return {type:'value', gridIndex:g, position:pos, min:0, max:13.6,
    splitLine:{show:false},
    axisLine:{show:showLine, onZero:false, lineStyle:{color:black, width:1}},
    axisTick:{show:true, inside:true, length:len, customValues:ticks, lineStyle:{color:black, width:1}},
    axisLabel:{show:showLabel, customValues:xMajorTicks, margin:3, fontFamily:FF, fontSize:19, color:black}};
}
function yAx(g, pos, ticks, len, showLine, showLabel) {
  return {type:'log', logBase:10, gridIndex:g, position:pos, min:1, max:270,
    splitLine:{show:false},
    axisLine:{show:showLine, onZero:false, lineStyle:{color:black, width:1}},
    axisTick:{show:true, inside:true, length:len, customValues:ticks, lineStyle:{color:black, width:1}},
    axisLabel:{show:showLabel, customValues:yMajorTicks, margin:2,
      formatter: v => (v >= 100 ? '{a|10}{b|2}' : '{a|10}{b| }'),
      rich:{a:{fontFamily:FF, fontSize:20, color:black},
            b:{fontFamily:FF, fontSize:12, color:black, width:8, align:'left', padding:[0,0,9,2]}}}};
}
function lineS(data, xi, yi, style, z) {
  return {type:'line', data:data, xAxisIndex:xi, yAxisIndex:yi, showSymbol:false, symbol:'none',
    smooth:0.3, smoothMonotone:'x', clip:true, silent:true, animation:false, z:z||2,
    lineStyle:Object.assign({color:black, width:1}, style)};
}
function txt(x, y, text, font, extra) {
  return Object.assign({type:'text', x:x, y:y, silent:true,
    style:{text:text, font:font, fill:black, textAlign:'left', textVerticalAlign:'middle', align:'left', verticalAlign:'middle'}}, extra||{});
}

nuclei.forEach((nuc, r) => {
  energies.forEach((en, c) => {
    const g = grids.length;
    const L = X0 + c*CW, T = Y0 + r*RH;
    grids.push({left:L, top:T, width:CW, height:RH});
    const xi = xAxes.length, yi = yAxes.length;
    xAxes.push(xAx(g,'bottom',xMajorTicks,6,true,r===4));
    xAxes.push(xAx(g,'bottom',xMinorTicks,3,false,false));
    xAxes.push(xAx(g,'top',xMajorTicks,6,true,false));
    xAxes.push(xAx(g,'top',xMinorTicks,3,false,false));
    yAxes.push(yAx(g,'left',yMajorTicks,6,true,c===0));
    yAxes.push(yAx(g,'left',yMinorTicks,3,false,false));
    yAxes.push(yAx(g,'right',yMajorTicks,6,true,false));
    yAxes.push(yAx(g,'right',yMinorTicks,3,false,false));
    const P = PANELS[r][c];
    series.push(lineS(P.bg, xi, yi, {width:1}));
    series.push(lineS(P.m2, xi, yi, {width:1, type:[7,4]}));
    series.push(lineS(P.m1, xi, yi, {width:1, type:[6,3,1.5,3]}));
    if (P.m3.length) series.push(lineS(P.m3, xi, yi, {width:2, type:[0.1,3.6], cap:'round'}));
    series.push(lineS(P.m0, xi, yi, {width:1.1}));
    series.push(lineS(P.fit, xi, yi, {width:1}, 3));
    series.push({type:'scatter', data:P.pts, xAxisIndex:xi, yAxisIndex:yi, symbol:'circle', symbolSize:6,
      itemStyle:{color:black}, silent:true, animation:false, z:4});
    graphics.push(txt(L+88, T+21, 'E', 'italic 19px '+FF));
    graphics.push(txt(L+99, T+27.5, 'x', 'italic 13px '+FF));
    graphics.push(txt(L+108.5, T+21, '= '+en+' MeV', '19px '+FF));
  });
  const T = Y0 + r*RH;
  graphics.push(txt(741, T+22, nuc, '13px '+FF, {scaleX:0.8}));
  graphics.push(txt(756, T+25.5, 'Sm', '19px '+FF));
});

energies.forEach((en, c) => {
  const L = X0 + c*CW;
  graphics.push(txt(L+63, 623, 'θ', '21px '+FF));
  graphics.push(txt(L+76, 632, 'c.m.', '12px '+FF));
  graphics.push(txt(L+103.5, 623, '(deg)', '20px '+FF));
});

graphics.push({type:'text', x:20, y:314, rotation:Math.PI/2, silent:true,
  style:{text:'d²σ/dΩdE (mb/sr MeV)', font:'23px '+FF, fill:black, textAlign:'center', textVerticalAlign:'middle', align:'center', verticalAlign:'middle'}});

chart.setOption({
  animation:false,
  backgroundColor:'#fff',
  grid:grids, xAxis:xAxes, yAxis:yAxes, series:series,
  graphic:{elements:graphics}
});
</script>
</body></html>
